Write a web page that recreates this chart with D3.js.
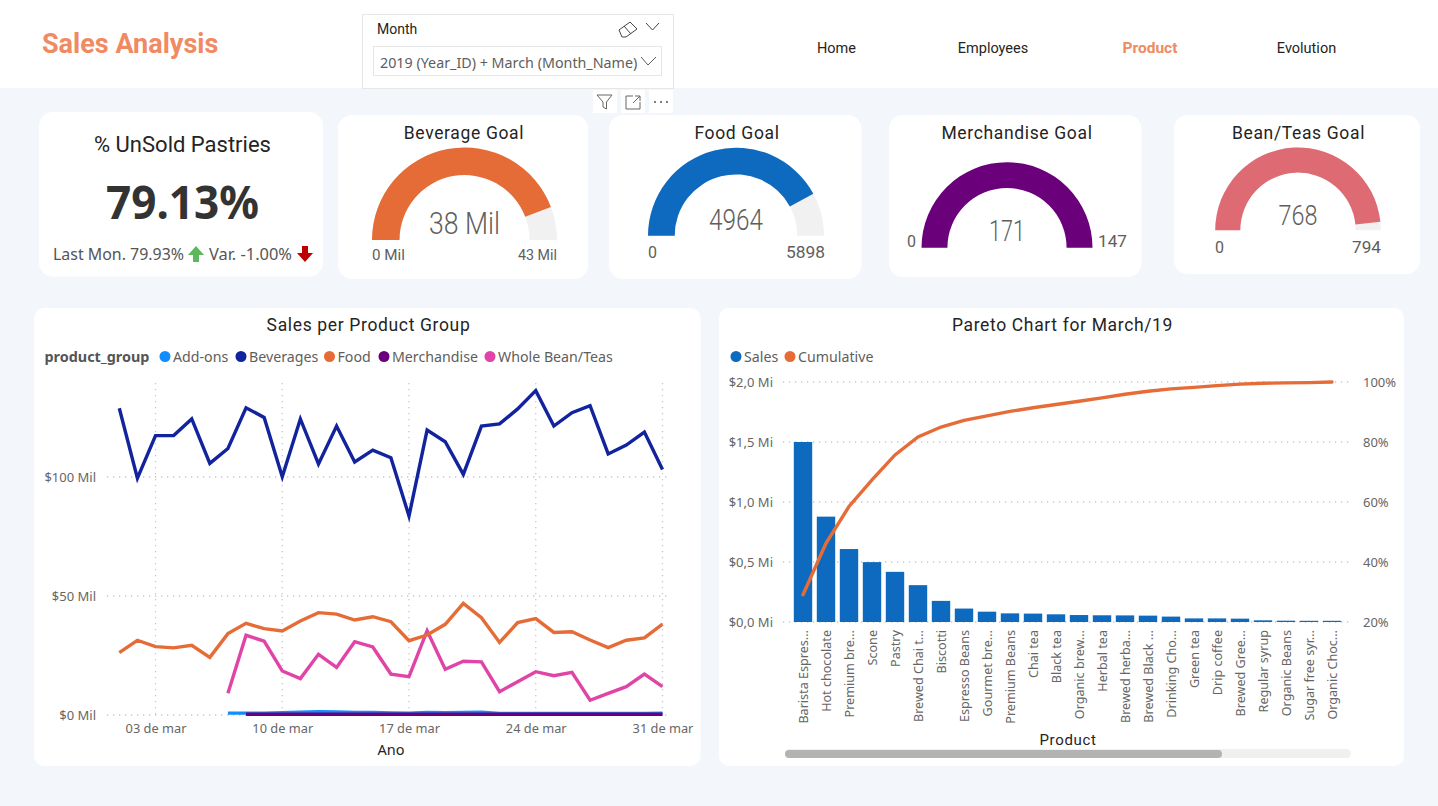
<!DOCTYPE html>
<html>
<head>
<meta charset="utf-8">
<script src="https://cdn.jsdelivr.net/npm/d3@7"></script>
<style>
  html, body { margin: 0; padding: 0; background: #f3f7fb; overflow: hidden; }
  svg { display: block; }
  text { font-family: "Noto Sans", sans-serif; }
  .din { font-family: Roboto, sans-serif; letter-spacing: 0.65px; }
  .din0 { font-family: Roboto, sans-serif; }
</style>
</head>
<body>
<svg id="page" width="1438" height="806"></svg>
<script>
/* DATA */
var days = d3.range(1, 32);
var addonDays = d3.range(7, 32);
var merchDays = d3.range(8, 32);
var beverages = [128.9, 99.5, 117.4, 117.4, 124.4, 105.7, 112, 129.1, 125, 100.1, 124.4, 105.5, 121.4, 106.3, 111.3, 108.1, 83.6, 119.7, 114.8, 101.1, 121.4, 122.3, 128.6, 136.3, 121.4, 127, 130, 109.7, 113.4, 118.9, 103.2];
var food = [26.2, 31.4, 28.7, 28.2, 29.3, 24.2, 34.2, 38.5, 36.3, 35.3, 39.5, 43, 42.4, 39.9, 41.3, 39.2, 31.2, 33.6, 38.1, 46.9, 40.9, 30.5, 38.8, 40.5, 34.7, 35, 31.5, 28.3, 31.4, 32.4, 38.2];
var teas = [9.1, 33.5, 31, 18.5, 15.3, 25.5, 20, 30.8, 28.6, 17.2, 16.1, 35.4, 19.2, 22.6, 22.3, 9.8, 14, 18.2, 16.5, 17.9, 6.2, 9.1, 11.9, 17.2, 11.9];
var addons = [0.8, 0.8, 0.8, 1, 1.2, 1.4, 1.3, 1.1, 1.1, 0.9, 0.8, 1.1, 1, 1.1, 1.2, 0.7, 0.6, 0.6, 0.6, 0.6, 0.7, 0.7, 0.7, 0.7, 0.8];
var merch = [0.3, 0.3, 0.3, 0.3, 0.3, 0.3, 0.3, 0.3, 0.3, 0.3, 0.3, 0.3, 0.3, 0.3, 0.3, 0.3, 0.3, 0.3, 0.3, 0.3, 0.3, 0.3, 0.3, 0.3];
var dayTicks = [3, 10, 17, 24, 31];
var dayLabels = ["03 de mar", "10 de mar", "17 de mar", "24 de mar", "31 de mar"];
var salesTicks = [0, 50, 100];
var groupNames = ["Add-ons", "Beverages", "Food", "Merchandise", "Whole Bean/Teas"];

var products = ["Barista Espres...", "Hot chocolate", "Premium bre...", "Scone", "Pastry", "Brewed Chai t...", "Biscotti", "Espresso Beans", "Gourmet bre...", "Premium Beans", "Chai tea", "Black tea", "Organic brew...", "Herbal tea", "Brewed herba...", "Brewed Black ...", "Drinking Cho...", "Green tea", "Drip coffee", "Brewed Gree...", "Regular syrup", "Organic Beans", "Sugar free syr...", "Organic Choc..."];
var productSales = [1.5, 0.878, 0.608, 0.499, 0.418, 0.307, 0.176, 0.112, 0.086, 0.072, 0.07, 0.064, 0.058, 0.056, 0.055, 0.053, 0.045, 0.03, 0.03, 0.028, 0.014, 0.011, 0.01, 0.01];
var cumulative = [29.1, 46.2, 58.5, 67.4, 75.7, 81.7, 85, 87.2, 88.7, 90.2, 91.4, 92.5, 93.6, 94.7, 95.9, 96.9, 97.7, 98.2, 98.8, 99.3, 99.6, 99.7, 99.8, 100];
var paretoLeftTicks = [0, 0.5, 1, 1.5, 2];
var paretoLeftLabels = ["$0,0 Mi", "$0,5 Mi", "$1,0 Mi", "$1,5 Mi", "$2,0 Mi"];
var paretoRightTicks = [20, 40, 60, 80, 100];

var gaugeNames = ["Beverage Goal", "Food Goal", "Merchandise Goal", "Bean/Teas Goal"];
var gaugeValues = [38, 4964, 171, 768];
var gaugeMax = [43, 5898, 147, 794];
var gaugeText = ["38 Mil", "4964", "171", "768"];
var gaugeMinText = ["0 Mil", "0", "0", "0"];
var gaugeMaxText = ["43 Mil", "5898", "147", "794"];
var gaugeColors = ["#E66C37", "#0D6ABF", "#6B007B", "#DE6A73"];

/* COLORS */
var accent = "#F08A62";
var lineColors = ["#118DFF", "#12239E", "#E66C37", "#6B007B", "#E044A7"];

var svg = d3.select("#page");

function label(x, y, str, size, color, anchor, cls, weight) {
  return svg.append("text")
    .attr("class", cls || null)
    .attr("x", x).attr("y", y + 1.5)
    .attr("dominant-baseline", "middle")
    .attr("text-anchor", anchor || "start")
    .attr("font-size", size)
    .attr("font-weight", weight || 400)
    .attr("fill", color)
    .text(str);
}

function squeeze(sel, width) {
  return sel.attr("textLength", width).attr("lengthAdjust", "spacingAndGlyphs");
}

function card(x0, y0, x1, y1, r) {
  svg.append("rect").attr("x", x0).attr("y", y0)
    .attr("width", x1 - x0).attr("height", y1 - y0)
    .attr("rx", r).attr("fill", "#fff");
}

/* HEADER */
svg.append("rect").attr("width", 1438).attr("height", 88).attr("fill", "#fff");
label(42, 44, "Sales Analysis", 27, accent, "start", "din0", 700);

svg.append("rect").attr("x", 362.5).attr("y", 14.5).attr("width", 311).attr("height", 74)
  .attr("fill", "#fff").attr("stroke", "#e6e6e6");
svg.append("rect").attr("x", 373.5).attr("y", 46.5).attr("width", 288).attr("height", 29)
  .attr("fill", "#fff").attr("stroke", "#e6e6e6");
label(377, 29, "Month", 14, "#252423", "start", "din0");
label(380, 62.5, "2019 (Year_ID) + March (Month_Name)", 14.3, "#605e5c");

var iconStroke = svg.append("g").attr("fill", "none").attr("stroke", "#444").attr("stroke-width", 1);
iconStroke.append("path").attr("d", "M619 30 L630 22 L637 29 L626 37 L622 37 Z M624 26 L631 34"); // eraser
iconStroke.append("path").attr("d", "M646 23 L652.5 30 L659 23"); // chevron
iconStroke.append("path").attr("d", "M641 57 L648 65 L656 57").attr("stroke", "#605e5c");

var nav = ["Home", "Employees", "Product", "Evolution"];
var navX = [836.5, 993, 1150, 1306.5];
nav.forEach(function (n, i) {
  var on = n == "Product";
  label(navX[i], 47.5, n, on ? 15.5 : 14.5, on ? accent : "#252423", "middle", "din0", on ? 700 : 400);
});

/* little visual header under the slicer */
[593, 621, 649].forEach(function (x) {
  svg.append("rect").attr("x", x).attr("y", 90).attr("width", 24).attr("height", 23).attr("fill", "#fff");
});
var iconHead = svg.append("g").attr("fill", "none").attr("stroke", "#666").attr("stroke-width", 1);
iconHead.append("path").attr("d", "M597 95 L612 95 L606.5 102 L606.5 109 L603 107 L603 102 Z");
iconHead.append("path").attr("d", "M633 96 L626 96 L626 109 L640 109 L640 102 M633 103 L640 96 M635 96 L640 96 L640 101");
[655, 661, 667].forEach(function (x) {
  svg.append("circle").attr("cx", x).attr("cy", 102).attr("r", 1).attr("fill", "#555");
});

/* KPI CARD */
card(39, 112, 323, 276.5, 14);
label(182.5, 145, "% UnSold Pastries", 22, "#252423", "middle", "din0");
squeeze(label(182.5, 205, "79.13%", 47, "#333", "middle", null, 700), 153);
squeeze(label(53, 254, "Last Mon. 79.93%", 15.5, "#555"), 131);
squeeze(label(209, 254, "Var. -1.00%", 15.5, "#555"), 83);
svg.append("path").attr("fill", "#5CB85C")
  .attr("d", "M196 246 L204 255 L199 255 L199 262 L193 262 L193 255 L188 255 Z");
svg.append("path").attr("fill", "#C00000")
  .attr("d", "M305 262 L313 253 L308 253 L308 246 L302 246 L302 253 L297 253 Z");

/* GAUGES */
var gaugeCards = [[338, 115, 588, 279], [609, 115, 861.5, 279], [889, 115, 1141.5, 277], [1174, 115, 1420, 274]];
var gaugeCx = [464.5, 736, 1007, 1298];
var gaugeCy = [240, 235.7, 247.7, 230.3];
var gaugeOuter = [92.5, 88, 85.5, 82.8];
var gaugeInner = [65, 61.3, 59.6, 57.7];
var gaugeTitleX = [464, 737, 1017, 1298.5];
var gaugeValueY = [224, 220.5, 232, 216];
var gaugeValueSize = [32, 30, 29, 28];
var gaugeValueWidth = [71, 54, 36, 39];
var gaugeLimitWidth = [[33, 39], [9, 39], [9, 29], [9, 29]];
var gaugeMinPos = [[372, 255, "start"], [648, 252.5, "start"], [916, 241.5, "end"], [1215, 247.5, "start"]];
var gaugeMaxPos = [[557, 255, "end"], [825, 252.5, "end"], [1098, 241.5, "start"], [1381, 247.5, "end"]];

gaugeNames.forEach(function (name, i) {
  var c = gaugeCards[i];
  card(c[0], c[1], c[2], c[3], 14);
  label(gaugeTitleX[i], 132.5, name, 17.5, "#252423", "middle", "din", 400);

  var angle = d3.scaleLinear().domain([0, gaugeMax[i]]).range([-Math.PI / 2, Math.PI / 2]).clamp(true);
  var arc = d3.arc().innerRadius(gaugeInner[i]).outerRadius(gaugeOuter[i]);
  var g = svg.append("g").attr("transform", "translate(" + gaugeCx[i] + "," + gaugeCy[i] + ")");
  g.append("path").attr("fill", "#F1F1F1")
    .attr("d", arc({ startAngle: -Math.PI / 2, endAngle: Math.PI / 2 }));
  g.append("path").attr("fill", gaugeColors[i])
    .attr("d", arc({ startAngle: -Math.PI / 2, endAngle: angle(gaugeValues[i]) }));

  squeeze(label(gaugeCx[i], gaugeValueY[i], gaugeText[i], gaugeValueSize[i], "#605e5c", "middle", "din0", 300), gaugeValueWidth[i]);
  squeeze(label(gaugeMinPos[i][0], gaugeMinPos[i][1], gaugeMinText[i], i == 0 ? 15 : 17, "#605e5c", gaugeMinPos[i][2], "din0"), gaugeLimitWidth[i][0]);
  squeeze(label(gaugeMaxPos[i][0], gaugeMaxPos[i][1], gaugeMaxText[i], i == 0 ? 15 : 17, "#605e5c", gaugeMaxPos[i][2], "din0"), gaugeLimitWidth[i][1]);
});

/* LINE CHART */
card(34, 308, 700.5, 766, 10);
label(368.5, 325, "Sales per Product Group", 17.5, "#252423", "middle", "din", 400);
label(44.5, 357, "product_group", 14.4, "#555", "start", null, 700);
var lineLegendX = [165, 241, 329.5, 384, 490];
groupNames.forEach(function (n, i) {
  svg.append("circle").attr("cx", lineLegendX[i]).attr("cy", 356.5).attr("r", 5.5).attr("fill", lineColors[i]);
  label(lineLegendX[i] + 8, 357, n, 14.2, "#605e5c");
});

var x = d3.scaleLinear().domain([1, 31]).range([119.3, 662.5]);
var y = d3.scaleLinear().domain([0, 140]).range([715, 381.8]);
var dotted = function (sel) {
  sel.attr("stroke", "#c8c8c8").attr("stroke-width", 1.3).attr("stroke-dasharray", "1.3 4.7");
};

svg.selectAll(".vgrid").data(dayTicks).enter().append("line").attr("class", "vgrid")
  .attr("x1", x).attr("x2", x).attr("y1", 383).attr("y2", 715).call(dotted);
svg.selectAll(".hgrid").data(salesTicks).enter().append("line").attr("class", "hgrid")
  .attr("x1", 107).attr("x2", 670).attr("y1", y).attr("y2", y).call(dotted);

var xAxis = svg.append("g").attr("transform", "translate(0,715)")
  .call(d3.axisBottom(x).tickValues(dayTicks).tickFormat(function (d, i) { return dayLabels[i]; }).tickSize(0).tickPadding(8.5));
xAxis.select(".domain").remove();
xAxis.selectAll("text").attr("font-size", 12.8).attr("fill", "#666");

var yAxis = svg.append("g").attr("transform", "translate(107,0)")
  .call(d3.axisLeft(y).tickValues(salesTicks).tickFormat(function (d) { return "$" + d + " Mil"; }).tickSize(0).tickPadding(11));
yAxis.select(".domain").remove();
yAxis.selectAll("text").attr("font-size", 13).attr("fill", "#666");

label(391, 749.5, "Ano", 14.5, "#252423", "middle");

var line = d3.line().x(function (d) { return x(d[0]); }).y(function (d) { return y(d[1]); });
var lineSeries = [
  [teas, addonDays, "#E044A7"],
  [food, days, "#E66C37"],
  [beverages, days, "#12239E"],
  [addons, addonDays, "#118DFF"],
  [merch, merchDays, "#6B007B"]
];
lineSeries.forEach(function (s) {
  svg.append("path")
    .datum(d3.zip(s[1], s[0]))
    .attr("fill", "none").attr("stroke", s[2]).attr("stroke-width", 3.4)
    .attr("stroke-linejoin", "miter")
    .attr("d", line);
});

/* PARETO */
card(719, 308, 1404, 766, 10);
label(1062.5, 325, "Pareto Chart for March/19", 17.5, "#252423", "middle", "din", 400);
var paretoNames = ["Sales", "Cumulative"];
var paretoColors = ["#0D6ABF", "#E66C37"];
var paretoLegendX = [736, 790];
paretoNames.forEach(function (n, i) {
  svg.append("circle").attr("cx", paretoLegendX[i]).attr("cy", 356.5).attr("r", 5.5).attr("fill", paretoColors[i]);
  label(paretoLegendX[i] + 8, 357, n, 14.2, "#605e5c");
});

var px = d3.scaleBand().domain(products).range([791.5, 1343.5]).paddingInner(0.2).paddingOuter(0.1);
var py = d3.scaleLinear().domain([0, 2]).range([622, 382]);
var pr = d3.scaleLinear().domain([20, 100]).range([622, 382]);

svg.selectAll(".pgrid").data(paretoLeftTicks).enter().append("line").attr("class", "pgrid")
  .attr("x1", 783).attr("x2", 1352).attr("y1", py).attr("y2", py).call(dotted);

var pLeft = svg.append("g").attr("transform", "translate(783,0)")
  .call(d3.axisLeft(py).tickValues(paretoLeftTicks).tickFormat(function (d, i) { return paretoLeftLabels[i]; }).tickSize(0).tickPadding(10));
pLeft.select(".domain").remove();
pLeft.selectAll("text").attr("font-size", 13).attr("fill", "#666");

var pRight = svg.append("g").attr("transform", "translate(1352,0)")
  .call(d3.axisRight(pr).tickValues(paretoRightTicks).tickFormat(function (d) { return d + "%"; }).tickSize(0).tickPadding(11));
pRight.select(".domain").remove();
pRight.selectAll("text").attr("font-size", 13).attr("fill", "#666");

var pBottom = svg.append("g").attr("transform", "translate(0,622)")
  .call(d3.axisBottom(px).tickSize(0));
pBottom.select(".domain").remove();
pBottom.selectAll("text")
  .attr("font-size", 12.6).attr("fill", "#666")
  .attr("text-anchor", "end")
  .attr("dominant-baseline", "middle")
  .attr("transform", "rotate(-90)")
  .attr("x", -8).attr("y", 1.5).attr("dy", 0);

svg.selectAll(".bar").data(products).enter().append("rect").attr("class", "bar")
  .attr("x", function (d) { return px(d); })
  .attr("width", px.bandwidth())
  .attr("y", function (d, i) { return py(productSales[i]); })
  .attr("height", function (d, i) { return 622 - py(productSales[i]); })
  .attr("fill", "#0D6ABF");

var cumLine = d3.line()
  .x(function (d, i) { return px(products[i]) + px.bandwidth() / 2; })
  .y(function (d) { return pr(d); });
svg.append("path").datum(cumulative)
  .attr("fill", "none").attr("stroke", "#E66C37").attr("stroke-width", 3.4)
  .attr("stroke-linecap", "round").attr("d", cumLine);

label(1068, 740, "Product", 15, "#252423", "middle", "din");

/* scrollbar */
svg.append("rect").attr("x", 785).attr("y", 749).attr("width", 566).attr("height", 9).attr("rx", 4.5).attr("fill", "#f0f0f0");
svg.append("rect").attr("x", 785).attr("y", 750).attr("width", 437).attr("height", 8).attr("rx", 4).attr("fill", "#b3b3b3");
</script>
</body>
</html>
